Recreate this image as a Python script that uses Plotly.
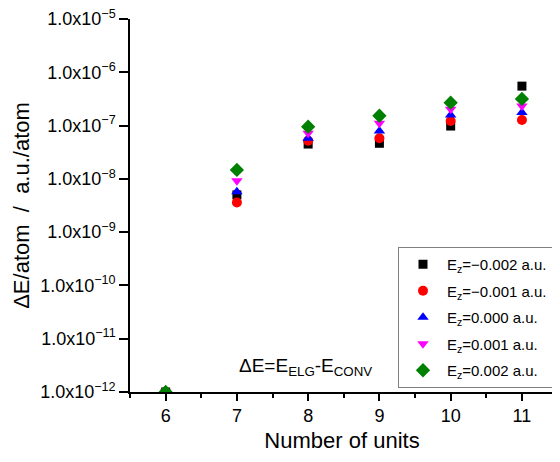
import plotly.graph_objects as go

units = [6, 7, 8, 9, 10, 11]
e_m002 = [1.0e-12, 5.0e-9, 4.5e-8, 4.65e-8, 9.8e-8, 5.5e-7]
e_m001 = [1.0e-12, 3.6e-9, 5.2e-8, 5.8e-8, 1.22e-7, 1.27e-7]
e_0000 = [1.0e-12, 5.75e-9, 5.8e-8, 7.9e-8, 1.58e-7, 1.75e-7]
e_p001 = [1.0e-12, 9.2e-9, 7.2e-8, 1.1e-7, 2.02e-7, 2.33e-7]
e_p002 = [1.0e-12, 1.47e-8, 9.5e-8, 1.53e-7, 2.69e-7, 3.16e-7]

series_names = ["E<sub>z</sub>=\u22120.002 a.u.", "E<sub>z</sub>=\u22120.001 a.u.",
                "E<sub>z</sub>=0.000 a.u.", "E<sub>z</sub>=0.001 a.u.",
                "E<sub>z</sub>=0.002 a.u."]
y_tick_exps = [-12, -11, -10, -9, -8, -7, -6, -5]
x_ticks = [6, 7, 8, 9, 10, 11]

series = [e_m002, e_m001, e_0000, e_p001, e_p002]
colors = ["black", "#ff0000", "#0000ff", "#ff00ff", "#008000"]
symbols = ["square", "circle", "triangle-up", "triangle-down", "diamond"]
sizes = [9, 10, 10, 10, 11]

fig = go.Figure()
for i, (ys, name) in enumerate(zip(series, series_names)):
    fig.add_trace(go.Scatter(
        x=units, y=ys, mode="markers", name=name,
        legendgroup=f"g{i}",
        marker=dict(color=colors[i], symbol=symbols[i], size=sizes[i], line=dict(width=0)),
    ))

fig.update_layout(
    width=560, height=462,
    margin=dict(l=122, r=14, t=11, b=78),
    paper_bgcolor="white", plot_bgcolor="white",
    font=dict(family="Liberation Sans, Arial, sans-serif", color="black"),
    showlegend=True,
    legend=dict(
        x=(398 - 130) / 424, y=(392 - 247) / 373, xanchor="left", yanchor="top",
        bordercolor="#808080", borderwidth=1, bgcolor="white",
        font=dict(size=15), tracegroupgap=4, itemwidth=38,
    ),
)

fig.update_xaxes(
    range=[5.5, 11.45], tickvals=x_ticks, ticktext=[str(v) for v in x_ticks],
    automargin=False,
    showline=True, linecolor="black", linewidth=1.5, mirror=False,
    ticks="outside", ticklen=7, tickwidth=1.5, tickcolor="black",
    minor=dict(dtick=0.5, tick0=5.5, ticks="outside", ticklen=4, tickwidth=1.5, tickcolor="black"),
    showgrid=False, zeroline=False,
    tickfont=dict(size=18),
    title=dict(text="Number of units", font=dict(size=22), standoff=7),
)
fig.update_yaxes(
    type="log", range=[-12, -5],
    automargin=False, ticklabeloverflow="allow",
    tickvals=[10.0 ** e for e in y_tick_exps],
    ticktext=[f"1.0x10<sup>\u2212{abs(e)}</sup>" for e in y_tick_exps],
    showline=True, linecolor="black", linewidth=1.5,
    ticks="outside", ticklen=9, tickwidth=1.5, tickcolor="black",
    showgrid=False, zeroline=False,
    tickfont=dict(size=18),
    title=dict(text="\u0394E/atom\u00a0\u00a0/\u00a0\u00a0a.u./atom", font=dict(size=22), standoff=5),
)

fig.add_annotation(
    x=(305 - 130) / 424, y=(392 - 367) / 373, xref="paper", yref="paper",
    text="\u0394E=E<sub>ELG</sub>-E<sub>CONV</sub>", showarrow=False,
    font=dict(size=19), xanchor="center", yanchor="middle",
)

fig.write_html("out.html")
